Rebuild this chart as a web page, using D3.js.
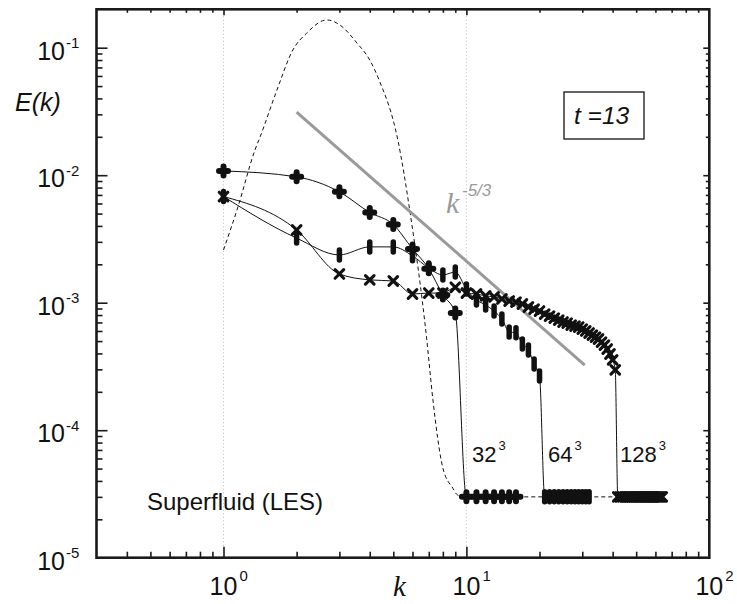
<!DOCTYPE html>
<html>
<head>
<meta charset="utf-8">
<script src="https://cdn.jsdelivr.net/npm/d3@7"></script>
<style>
  html, body { margin: 0; padding: 0; background: #fff; }
  svg { display: block; }
  text { font-family: "Liberation Sans", Arial, Helvetica, sans-serif; fill: #111; }
</style>
</head>
<body>
<svg id="chart" width="737" height="604"></svg>
<script>
// Energy spectra E(k) of the superfluid LES runs at t = 13.

// 32^3 run (plus markers)
const k32 = [1, 2, 3, 4, 5, 6, 7, 8, 9, 10, 11, 12, 13, 14, 15, 16];
const e32 = [1.08e-2, 9.7e-3, 7.4e-3, 5.1e-3, 4.1e-3, 2.64e-3, 1.85e-3, 1.15e-3, 8.3e-4,
             3e-5, 3e-5, 3e-5, 3e-5, 3e-5, 3e-5, 3e-5];

// 64^3 run (bar markers)
const k64 = [1, 2, 3, 4, 5, 6, 7, 8, 9, 10, 11, 12, 13, 14, 15, 16,
             17, 18, 19, 20, 21, 22, 23, 24, 25, 26, 27, 28, 29, 30, 31, 32];
const e64 = [6.8e-3, 3.21e-3, 2.37e-3, 2.74e-3, 2.74e-3, 2.33e-3, 1.87e-3, 1.65e-3,
             1.74e-3, 1.28e-3, 1.05e-3, 9.6e-4, 8.6e-4, 7.45e-4, 5.9e-4, 5.8e-4,
             4.74e-4, 4.26e-4, 3.3e-4, 2.66e-4, 3e-5, 3e-5, 3e-5, 3e-5,
             3e-5, 3e-5, 3e-5, 3e-5, 3e-5, 3e-5, 3e-5, 3e-5];

// 128^3 run (cross markers)
const k128 = [1, 2, 3, 4, 5, 6, 7, 8, 9, 10, 11, 12, 13, 14, 15, 16,
              17, 18, 19, 20, 21, 22, 23, 24, 25, 26, 27, 28, 29, 30, 31, 32,
              33, 34, 35, 36, 37, 38, 39, 40, 41, 42, 43, 44, 45, 46, 47, 48,
              49, 50, 51, 52, 53, 54, 55, 56, 57, 58, 59, 60, 61, 62, 63, 64];
const e128 = [6.8e-3, 3.72e-3, 1.68e-3, 1.51e-3, 1.48e-3, 1.17e-3, 1.19e-3, 1.19e-3,
              1.32e-3, 1.19e-3, 1.17e-3, 1.13e-3, 1.11e-3, 1.07e-3, 1.03e-3, 1.01e-3,
              9.77e-4, 9.25e-4, 8.9e-4, 8.6e-4, 8.13e-4, 7.85e-4, 7.57e-4, 7.3e-4,
              7.05e-4, 6.92e-4, 6.67e-4, 6.55e-4, 6.44e-4, 6.21e-4, 6.0e-4, 5.78e-4,
              5.57e-4, 5.37e-4, 5.19e-4, 4.91e-4, 4.65e-4, 4.33e-4, 3.96e-4, 3.56e-4,
              2.97e-4, 3e-5, 3e-5, 3e-5, 3e-5, 3e-5, 3e-5, 3e-5,
              3e-5, 3e-5, 3e-5, 3e-5, 3e-5, 3e-5, 3e-5, 3e-5,
              3e-5, 3e-5, 3e-5, 3e-5, 3e-5, 3e-5, 3e-5, 3e-5];

// initial spectrum (dashed)
const kInit = [1, 1.147, 1.348, 1.414, 1.66, 1.93, 2.2, 2.66, 3.01, 3.54, 4.0, 4.37,
               5.22, 5.86, 6.85, 7.28, 7.99, 8.8, 9.2, 10, 64];
const eInit = [2.59e-3, 5.64e-3, 1.58e-2, 1.99e-2, 4.66e-2, 9.6e-2, 0.13, 0.165, 0.151,
               0.109, 0.080, 0.0558, 0.0189, 5.13e-3, 5.37e-4, 1.73e-4, 5.1e-5, 3.5e-5,
               3.1e-5, 3e-5, 3e-5];

// Kolmogorov reference slope k^-5/3
const kRef = [2, 30.7];
const eRef = [3.13e-2, 3.24e-4];

// axis decades
const xDecades = [0, 1, 2];
const yDecades = [-5, -4, -3, -2, -1];

const svg = d3.select("#chart");
const L = 96.5, R = 709.3, T = 9.3, B = 557.7;

const x = d3.scaleLog().domain([0.3, 100]).range([L, R]);
const y = d3.scaleLog().domain([1e-5, 0.2]).range([B, T]);

const isMajor = v => Math.abs(Math.log10(v) - Math.round(Math.log10(v))) < 1e-9;
const xTicks = x.ticks().filter(v => v > 0.3 + 1e-9 && v < 100 - 1e-9);
const yTicks = y.ticks().filter(v => v > 1e-5 * 1.0001 && v < 0.2 * 0.9999);

// dotted vertical grid at decades
svg.append("g").selectAll("line")
  .data([1, 10]).join("line")
  .attr("x1", d => x(d)).attr("x2", d => x(d))
  .attr("y1", T).attr("y2", B)
  .attr("stroke", "#bdbdbd").attr("stroke-width", 1)
  .attr("stroke-dasharray", "1,2.5");

// inward ticks on all four sides, built with d3 axes
function tickAxis(axisFn, scale, vals, size, transform) {
  const g = svg.append("g").attr("transform", transform)
    .call(axisFn(scale).tickValues(vals).tickSize(size).tickFormat(""));
  g.select(".domain").remove();
  g.selectAll(".tick line").attr("stroke", "#1a1a1a").attr("stroke-width", 1.6);
  return g;
}
const xMin = xTicks.filter(v => !isMajor(v)), yMin = yTicks.filter(v => !isMajor(v));
const xMaj = xTicks.filter(isMajor), yMaj = yTicks.filter(isMajor).concat([1e-5]);
// bottom
tickAxis(d3.axisBottom, x, xMaj, -11, `translate(0,${B})`);
tickAxis(d3.axisBottom, x, xMin, -6, `translate(0,${B})`);
// left
tickAxis(d3.axisLeft, y, yMaj, -11, `translate(${L},0)`);
tickAxis(d3.axisLeft, y, yMin, -6, `translate(${L},0)`);
// top
tickAxis(d3.axisTop, x, xMaj, -6, `translate(0,${T})`);
tickAxis(d3.axisTop, x, xMin, -3.5, `translate(0,${T})`);
// right
tickAxis(d3.axisRight, y, yMaj.filter(v => v > 1e-5), -6, `translate(${R},0)`);
tickAxis(d3.axisRight, y, yMin, -3.5, `translate(${R},0)`);

// initial spectrum, dashed
const line = d3.line().x(d => x(d[0])).y(d => y(d[1])).curve(d3.curveMonotoneX);
svg.append("path")
  .attr("d", line(kInit.map((k, i) => [k, eInit[i]])))
  .attr("fill", "none").attr("stroke", "#111").attr("stroke-width", 1)
  .attr("stroke-dasharray", "4,3");

// reference slope
svg.append("path")
  .attr("d", d3.line().x(d => x(d[0])).y(d => y(d[1]))(kRef.map((k, i) => [k, eRef[i]])))
  .attr("stroke", "#9a9a9a").attr("stroke-width", 3).attr("fill", "none");

// spectra lines
const series = [
  { k: k32, e: e32, shape: "plus" },
  { k: k64, e: e64, shape: "bar" },
  { k: k128, e: e128, shape: "cross" }
];
series.forEach(s => {
  svg.append("path")
    .attr("d", line(s.k.map((k, i) => [k, s.e[i]])))
    .attr("fill", "none").attr("stroke", "#111").attr("stroke-width", 1);
});

// markers
const shapes = {
  plus:  { d: "M-4.5,0H4.5M0,-4.5V4.5", w: 6 },
  bar:   { d: "M0,-5V5", w: 5.5 },
  cross: { d: "M-4.3,-4.3L4.3,4.3M-4.3,4.3L4.3,-4.3", w: 3.1 }
};
series.forEach(s => {
  svg.append("g").selectAll("path")
    .data(s.k.map((k, i) => [k, s.e[i]])).join("path")
    .attr("transform", d => `translate(${x(d[0])},${y(d[1])})`)
    .attr("d", shapes[s.shape].d)
    .attr("stroke", "#111").attr("stroke-width", shapes[s.shape].w)
    .attr("stroke-linecap", "round").attr("fill", "none");
});

// frame
svg.append("rect")
  .attr("x", L).attr("y", T).attr("width", R - L).attr("height", B - T)
  .attr("fill", "none").attr("stroke", "#1a1a1a").attr("stroke-width", 2.6);

// tick labels with superscript exponents
xDecades.forEach(p => {
  const cx = x(Math.pow(10, p));
  svg.append("text").attr("x", cx).attr("y", 595).attr("text-anchor", "middle")
    .attr("font-size", 25).text("10");
  svg.append("text").attr("x", cx + 16).attr("y", 581)
    .attr("font-size", 15).text(String(p));
});
yDecades.forEach(p => {
  const cy = y(Math.pow(10, p));
  svg.append("text").attr("x", 65).attr("y", cy + 12).attr("text-anchor", "end")
    .attr("font-size", 25).text("10");
  svg.append("text").attr("x", 66).attr("y", cy + 0.5)
    .attr("font-size", 15).text(String(p));
});

// axis titles
svg.append("text").attr("x", 15).attr("y", 111)
  .attr("font-size", 25).attr("font-style", "italic").text("E(k)");
svg.append("text").attr("x", 393).attr("y", 596)
  .style("font-family", "'Liberation Serif', 'Times New Roman', serif")
  .attr("font-size", 29).attr("font-style", "italic").text("k");

// annotations
svg.append("text").attr("x", 147).attr("y", 510).attr("font-size", 24)
  .text("Superfluid (LES)");

svg.append("rect").attr("x", 564).attr("y", 92).attr("width", 80).attr("height", 47)
  .attr("fill", "none").attr("stroke", "#111").attr("stroke-width", 1.3);
svg.append("text").attr("x", 574).attr("y", 124).attr("font-size", 24.5)
  .attr("font-style", "italic").text("t =13");

const kGray = svg.append("g");
kGray.append("text").attr("x", 446).attr("y", 213)
  .style("font-family", "'Liberation Serif', 'Times New Roman', serif")
  .style("fill", "#9a9a9a")
  .attr("font-size", 30).attr("font-style", "italic").text("k");
kGray.append("text").attr("x", 462).attr("y", 196)
  .style("fill", "#9a9a9a")
  .attr("font-size", 17).attr("font-style", "italic").text("-5/3");

const resLabels = [["32", 472], ["64", 548], ["128", 620]];
resLabels.forEach(([t, lx]) => {
  const tx = svg.append("text").attr("x", lx).attr("y", 462).attr("font-size", 22).text(t);
  const w = tx.node().getComputedTextLength();
  svg.append("text").attr("x", lx + w + 2).attr("y", 450).attr("font-size", 13).text("3");
});
</script>
</body>
</html>
